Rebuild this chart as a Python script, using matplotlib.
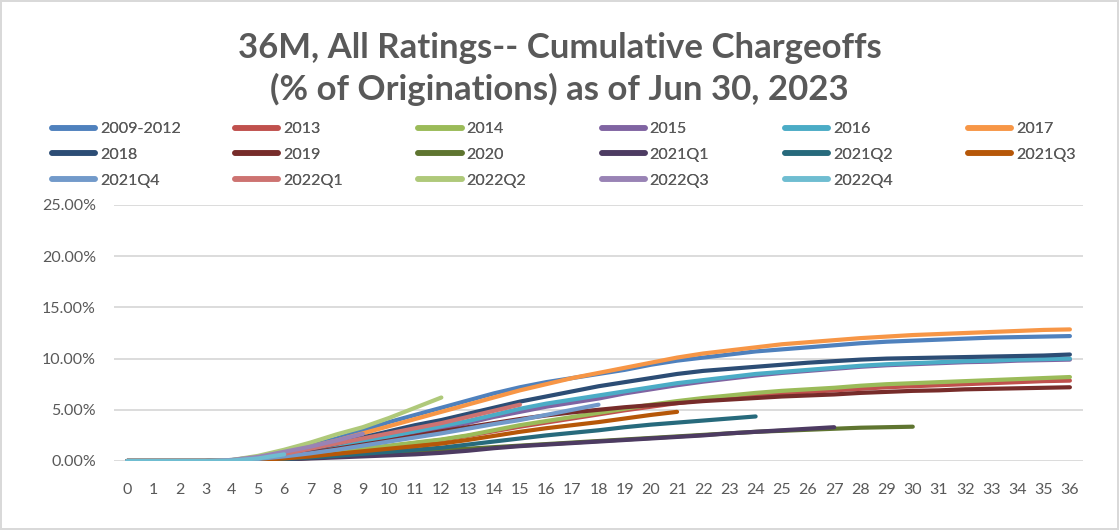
import matplotlib
matplotlib.use("Agg")
import matplotlib.pyplot as plt
from matplotlib.ticker import PercentFormatter, FixedLocator
from matplotlib.lines import Line2D

# ---------------- data (cumulative chargeoffs, % of originations) ----------------
months = list(range(37))

s_2009_2012 = [0, 0, 0, 0, 0.1, 0.4, 0.9, 1.5, 2.2, 3.0, 3.8, 4.5, 5.2, 5.9, 6.6, 7.2, 7.7, 8.1,
               8.5, 8.9, 9.4, 9.8, 10.1, 10.4, 10.7, 10.9, 11.1, 11.3, 11.5, 11.65, 11.75, 11.85,
               11.95, 12.05, 12.1, 12.15, 12.2]
s_2013 = [0, 0, 0, 0, 0.02, 0.1, 0.3, 0.55, 0.85, 1.15, 1.45, 1.75, 2.05, 2.45, 2.9, 3.35, 3.75,
          4.15, 4.55, 4.95, 5.3, 5.65, 5.95, 6.2, 6.4, 6.6, 6.75, 6.9, 7.05, 7.2, 7.3, 7.4, 7.5,
          7.6, 7.7, 7.8, 7.85]
s_2014 = [0, 0, 0, 0, 0.02, 0.1, 0.3, 0.55, 0.85, 1.2, 1.5, 1.8, 2.1, 2.5, 3.0, 3.5, 3.9, 4.3,
          4.7, 5.1, 5.5, 5.85, 6.15, 6.4, 6.65, 6.85, 7.0, 7.15, 7.35, 7.5, 7.6, 7.7, 7.8, 7.9,
          8.0, 8.1, 8.2]
s_2015 = [0, 0, 0, 0, 0.05, 0.2, 0.5, 0.9, 1.3, 1.8, 2.3, 2.8, 3.2, 3.7, 4.3, 4.8, 5.3, 5.7,
          6.1, 6.6, 7.0, 7.4, 7.75, 8.05, 8.35, 8.6, 8.8, 9.0, 9.2, 9.35, 9.45, 9.55, 9.65, 9.7,
          9.8, 9.85, 9.9]
s_2016 = [0, 0, 0, 0, 0.05, 0.2, 0.5, 0.9, 1.4, 1.9, 2.4, 2.9, 3.4, 3.9, 4.5, 5.1, 5.6, 6.0,
          6.4, 6.8, 7.2, 7.6, 7.9, 8.2, 8.5, 8.7, 8.9, 9.1, 9.3, 9.45, 9.55, 9.65, 9.75, 9.8,
          9.9, 9.95, 10.0]
s_2017 = [0, 0, 0, 0, 0.05, 0.3, 0.8, 1.4, 2.0, 2.7, 3.4, 4.1, 4.8, 5.5, 6.2, 6.9, 7.5, 8.1,
          8.6, 9.1, 9.6, 10.1, 10.5, 10.8, 11.1, 11.4, 11.6, 11.8, 12.0, 12.15, 12.3, 12.4, 12.5,
          12.6, 12.7, 12.8, 12.85]
s_2018 = [0, 0, 0, 0, 0.05, 0.2, 0.6, 1.1, 1.7, 2.3, 2.9, 3.5, 4.0, 4.6, 5.2, 5.8, 6.3, 6.8,
          7.3, 7.7, 8.1, 8.5, 8.8, 9.0, 9.2, 9.4, 9.6, 9.75, 9.9, 10.0, 10.05, 10.1, 10.15, 10.2,
          10.25, 10.3, 10.4]
s_2019 = [0, 0, 0, 0, 0.05, 0.2, 0.45, 0.8, 1.2, 1.6, 2.0, 2.45, 2.9, 3.3, 3.7, 4.1, 4.45, 4.75,
          5.0, 5.25, 5.45, 5.65, 5.85, 6.0, 6.15, 6.3, 6.4, 6.5, 6.65, 6.75, 6.85, 6.9, 7.0, 7.05,
          7.1, 7.15, 7.2]
s_2020 = [0, 0, 0, 0, 0, 0.05, 0.15, 0.3, 0.45, 0.6, 0.75, 0.9, 1.05, 1.2, 1.35, 1.5, 1.65, 1.8,
          1.95, 2.1, 2.25, 2.4, 2.55, 2.7, 2.85, 2.95, 3.05, 3.15, 3.25, 3.3, 3.35]
s_2021q1 = [0, 0, 0, 0, 0.02, 0.08, 0.15, 0.25, 0.35, 0.45, 0.55, 0.65, 0.8, 1.0, 1.25, 1.45,
            1.6, 1.75, 1.9, 2.05, 2.2, 2.35, 2.5, 2.7, 2.85, 3.0, 3.15, 3.3]
s_2021q2 = [0, 0, 0, 0, 0.02, 0.1, 0.2, 0.35, 0.5, 0.7, 0.9, 1.1, 1.3, 1.6, 1.9, 2.2, 2.5, 2.75,
            3.0, 3.3, 3.55, 3.75, 3.95, 4.15, 4.35]
s_2021q3 = [0, 0, 0, 0, 0.02, 0.1, 0.25, 0.45, 0.7, 0.95, 1.2, 1.45, 1.7, 2.05, 2.45, 2.85, 3.2,
            3.5, 3.8, 4.15, 4.5, 4.8]
s_2021q4 = [0, 0, 0, 0, 0.05, 0.2, 0.45, 0.75, 1.1, 1.5, 1.9, 2.3, 2.7, 3.15, 3.6, 4.0, 4.5,
            5.0, 5.5]
s_2022q1 = [0, 0, 0, 0, 0.05, 0.3, 0.7, 1.2, 1.7, 2.2, 2.7, 3.2, 3.7, 4.3, 4.9, 5.5]
s_2022q2 = [0, 0, 0, 0, 0.1, 0.5, 1.1, 1.8, 2.6, 3.3, 4.2, 5.2, 6.2]
s_2022q3 = [0, 0, 0, 0, 0.1, 0.4, 0.9, 1.4, 2.0, 2.65]
s_2022q4 = [0, 0, 0, 0, 0.05, 0.25, 0.65]

series_labels = ["2009-2012", "2013", "2014", "2015", "2016", "2017", "2018", "2019", "2020",
                 "2021Q1", "2021Q2", "2021Q3", "2021Q4", "2022Q1", "2022Q2", "2022Q3", "2022Q4"]
series_values = [s_2009_2012, s_2013, s_2014, s_2015, s_2016, s_2017, s_2018, s_2019, s_2020,
                 s_2021q1, s_2021q2, s_2021q3, s_2021q4, s_2022q1, s_2022q2, s_2022q3, s_2022q4]
series_colors = ["#4F81BD", "#C0504D", "#9BBB59", "#8064A2", "#4BACC6", "#F79646",
                 "#2C4D75", "#772C2A", "#5F7530", "#4D3B62", "#276A7C", "#B65708",
                 "#729ACA", "#CD7371", "#AFC97A", "#9983B5", "#6FBDD1"]

title = "36M, All Ratings-- Cumulative Chargeoffs\n(% of Originations) as of Jun 30, 2023"
y_ticks = [0, 5, 10, 15, 20, 25]

# ---------------- figure ----------------
W, H = 1119, 530
plt.rcParams['font.family'] = ['Lato', 'DejaVu Sans']
TXT = "#595959"
fig = plt.figure(figsize=(W / 100, H / 100), dpi=100)
fig.patch.set_facecolor("white")
fig.patch.set_edgecolor("#D9D9D9")
fig.patch.set_linewidth(1.5)

ax = fig.add_axes([114 / W, 1 - 461 / H, (1083 - 114) / W, (461 - 205) / H])

for lab, vals, col in zip(series_labels, series_values, series_colors):
    ax.plot(months[:len(vals)], vals, color=col, lw=3.0, solid_capstyle='round',
            solid_joinstyle='round', label=lab)

ax.set_xlim(-0.5, 36.5)
ax.set_ylim(0, 25)
ax.xaxis.set_major_locator(FixedLocator(months))
ax.set_xticklabels([str(m) for m in months])
ax.yaxis.set_major_locator(FixedLocator(y_ticks))
ax.yaxis.set_major_formatter(PercentFormatter(xmax=100, decimals=2))
ax.grid(axis='y', color="#D9D9D9", lw=1.3)
ax.set_axisbelow(True)
for sp in ax.spines.values():
    sp.set_visible(False)
ax.tick_params(axis='both', length=0, labelsize=11.5, labelcolor=TXT)
ax.tick_params(axis='x', pad=16)
ax.tick_params(axis='y', pad=13)

fig.text(0.5, 1 - 69 / H, title, ha='center', va='center', fontsize=25,
         fontweight='bold', color=TXT, linespacing=1.32)

# ---------------- legend: 6 equal-pitch columns, row-major order ----------------
handles = [Line2D([], [], color=c, lw=4, solid_capstyle='round') for c in series_colors]
ncols = 6
col_x0, col_pitch = 52, 183.2
for c in range(ncols):
    idx = [i for i in range(len(series_labels)) if i % ncols == c]
    leg = fig.legend([handles[i] for i in idx], [series_labels[i] for i in idx],
                     loc='upper left', bbox_to_anchor=((col_x0 + c * col_pitch) / W, 1 - 122 / H),
                     frameon=False, fontsize=11.5, labelcolor=TXT, handlelength=2.7,
                     handletextpad=0.3, borderpad=0, borderaxespad=0, labelspacing=0.72)
    fig.add_artist(leg)

fig.savefig("out.png", dpi=100, facecolor=fig.get_facecolor(), edgecolor=fig.get_edgecolor())
